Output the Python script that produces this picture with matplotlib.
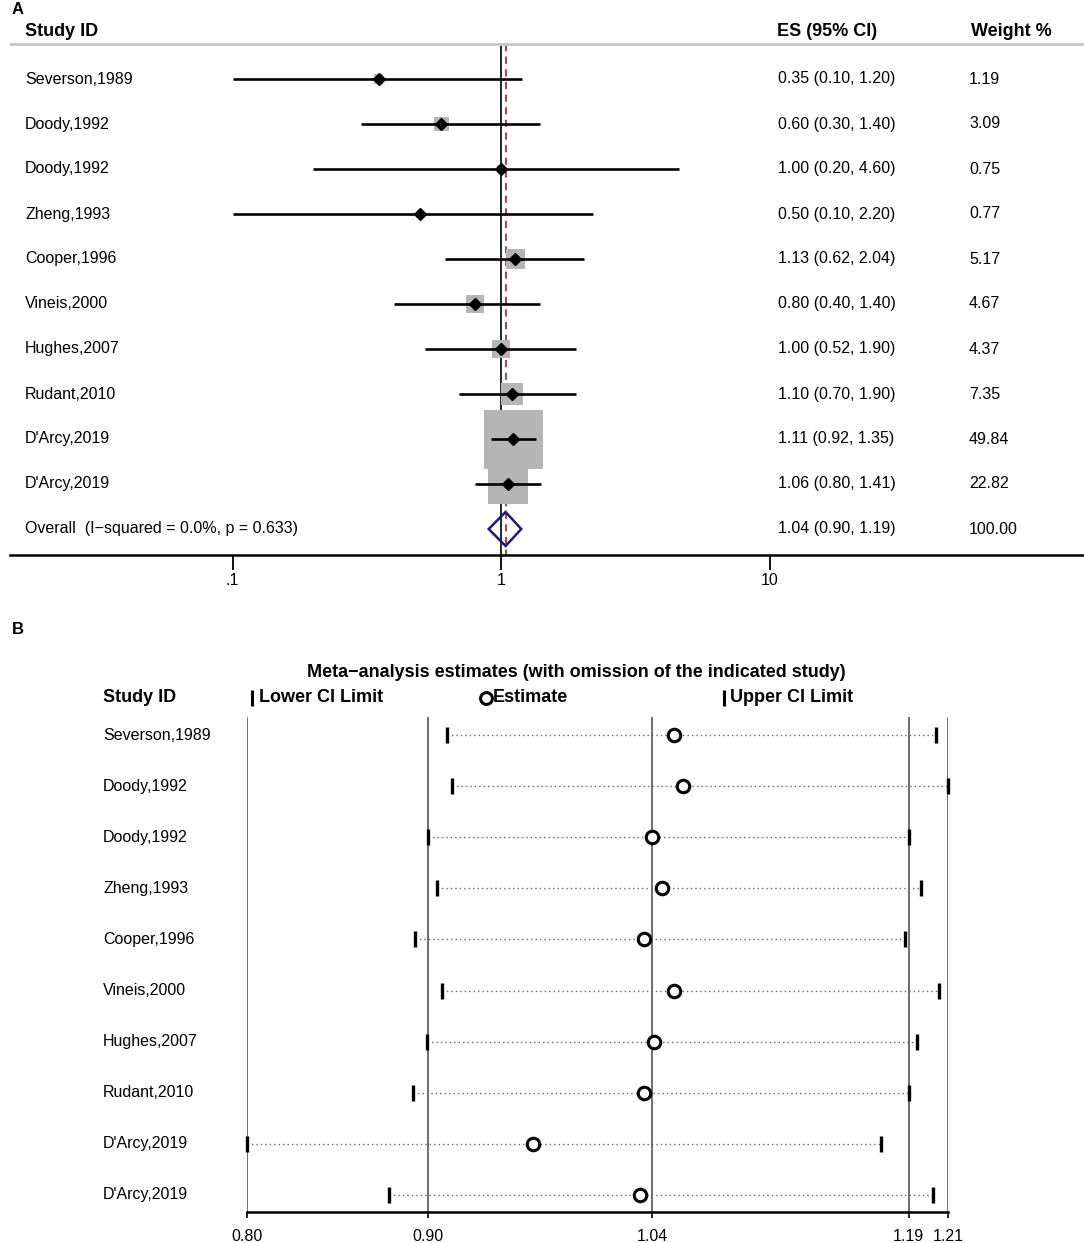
import numpy as np
import matplotlib
matplotlib.use("Agg")
import matplotlib.pyplot as plt
from matplotlib.patches import Polygon

plt.rcParams['font.family'] = ['Liberation Sans', 'DejaVu Sans']

W, H = 1084, 1243

# Panel A: forest plot
studies = ["Severson,1989", "Doody,1992", "Doody,1992", "Zheng,1993", "Cooper,1996",
           "Vineis,2000", "Hughes,2007", "Rudant,2010", "D'Arcy,2019", "D'Arcy,2019"]
es = [0.35, 0.60, 1.00, 0.50, 1.13, 0.80, 1.00, 1.10, 1.11, 1.06]
lo = [0.10, 0.30, 0.20, 0.10, 0.62, 0.40, 0.52, 0.70, 0.92, 0.80]
hi = [1.20, 1.40, 4.60, 2.20, 2.04, 1.40, 1.90, 1.90, 1.35, 1.41]
weight = [1.19, 3.09, 0.75, 0.77, 5.17, 4.67, 4.37, 7.35, 49.84, 22.82]
overall = (1.04, 0.90, 1.19)
overall_label = "Overall  (I\u2212squared = 0.0%, p = 0.633)"

# Panel B: leave-one-out sensitivity
loo_est = [1.050, 1.055, 1.037, 1.043, 1.032, 1.050, 1.038, 1.032, 0.967, 1.030]
loo_lo = [0.917, 0.920, 0.906, 0.911, 0.898, 0.914, 0.905, 0.897, 0.800, 0.883]
loo_hi = [1.203, 1.210, 1.187, 1.194, 1.185, 1.205, 1.192, 1.187, 1.171, 1.201]
b_ticks = [0.800, 0.906, 1.037, 1.187, 1.210]
b_ticklabels = ["0.80", "0.90", "1.04", "1.19", "1.21"]


def fx(px):
    return px / W


def fy(py):
    return 1 - py / H


fig = plt.figure(figsize=(W / 100, H / 100), dpi=100)

# ---------------- panel A ----------------
# rows at 79 + 45*i px, axis top 20 px, bottom 555 px
axA = fig.add_axes([fx(10), fy(555), fx(1074), (555 - 20) / H])
axA.set_xscale('log')
x0 = 10 ** ((10 - 501) / 268.5)
x1 = 10 ** ((1084 - 501) / 268.5)
axA.set_xlim(x0, x1)
row_top = (20 - 79) / 45
row_bot = (555 - 79) / 45
axA.set_ylim(row_bot, row_top)
for s in ['top', 'left', 'right']:
    axA.spines[s].set_visible(False)
axA.spines['bottom'].set_linewidth(1.8)
axA.set_yticks([])
axA.set_xticks([0.1, 1, 10])
axA.set_xticklabels([".1", "1", "10"])
axA.xaxis.set_minor_locator(matplotlib.ticker.NullLocator())
axA.tick_params(axis='x', length=11, width=1.3, labelsize=11.5, pad=2)

line_top = (44 - 79) / 45
axA.axhline(line_top, color='#c4c4c4', lw=2)
axA.vlines(1, line_top, row_bot, color='black', lw=1.2, zorder=1)
axA.vlines(overall[0], line_top, row_bot, color='#b03030', lw=1.3,
           linestyles=(0, (4, 3)), zorder=1)

rows = np.arange(len(studies))
side_pt = 59 * 0.72 * np.sqrt(np.array(weight) / 49.84)
axA.scatter(es, rows, marker='s', s=side_pt ** 2, color='#b5b5b5', linewidths=0, zorder=2)
axA.hlines(rows, lo, hi, color='black', lw=1.9, zorder=3)
axA.plot(es, rows, linestyle='none', marker='D', markersize=6, color='black', zorder=4)

ov_row = len(studies)
dh = 17 / 45
diamond = Polygon([[overall[1], ov_row], [overall[0], ov_row - dh],
                   [overall[2], ov_row], [overall[0], ov_row + dh]],
                  closed=True, fill=False, edgecolor='#1a1a80', lw=1.8, zorder=4)
axA.add_patch(diamond)

fig.text(fx(12), fy(10), "A", fontsize=12, fontweight='bold', va='center', ha='left')
fig.text(fx(25), fy(32), "Study ID", fontsize=13, fontweight='bold', va='center')
fig.text(fx(777), fy(32), "ES (95% CI)", fontsize=13, fontweight='bold', va='center')
fig.text(fx(971), fy(32), "Weight %", fontsize=13, fontweight='bold', va='center')
for i, name in enumerate(studies):
    py = 79 + 45 * i
    fig.text(fx(25), fy(py), name, fontsize=11.5, va='center')
    fig.text(fx(778), fy(py), f"{es[i]:.2f} ({lo[i]:.2f}, {hi[i]:.2f})", fontsize=11.5, va='center')
    fig.text(fx(969), fy(py), f"{weight[i]:.2f}", fontsize=11.5, va='center')
py = 79 + 45 * ov_row
fig.text(fx(25), fy(py), overall_label, fontsize=11.5, va='center')
fig.text(fx(778), fy(py), f"{overall[0]:.2f} ({overall[1]:.2f}, {overall[2]:.2f})", fontsize=11.5, va='center')
fig.text(fx(969), fy(py), "100.00", fontsize=11.5, va='center')

# ---------------- panel B ----------------
axB = fig.add_axes([fx(247), fy(1212), fx(701), (1212 - 717) / H])
axB.set_xlim(b_ticks[0], b_ticks[-1])
rb_top = (717 - 735) / 51.1
rb_bot = (1212 - 735) / 51.1
axB.set_ylim(rb_bot, rb_top)
for s in ['top', 'left', 'right']:
    axB.spines[s].set_visible(False)
axB.spines['bottom'].set_linewidth(1.8)
axB.set_yticks([])
axB.set_xticks(b_ticks)
axB.set_xticklabels(b_ticklabels)
axB.tick_params(axis='x', length=4, width=1.2, labelsize=11.5, pad=8)
for t in b_ticks:
    axB.axvline(t, color='#555555', lw=1.2, zorder=1)

rows_b = np.arange(len(studies))
axB.hlines(rows_b, loo_lo, loo_hi, color='#666666', lw=1.0, linestyles=(0, (1, 2.2)), zorder=2)
axB.plot(loo_lo, rows_b, linestyle='none', marker='|', markersize=11.5, markeredgewidth=2.4,
         color='black', zorder=3, clip_on=False)
axB.plot(loo_hi, rows_b, linestyle='none', marker='|', markersize=11.5, markeredgewidth=2.4,
         color='black', zorder=3, clip_on=False)
axB.plot(loo_est, rows_b, linestyle='none', marker='o', markersize=9, markeredgewidth=2.2,
         markerfacecolor='white', markeredgecolor='black', zorder=4)

fig.text(fx(12), fy(630), "B", fontsize=12, fontweight='bold', va='center', ha='left')
fig.text(fx(576), fy(673), "Meta\u2212analysis estimates (with omission of the indicated study)",
         fontsize=13, fontweight='bold', va='center', ha='center')
fig.text(fx(103), fy(698), "Study ID", fontsize=13, fontweight='bold', va='center')
fig.text(fx(259), fy(698), "Lower CI Limit", fontsize=13, fontweight='bold', va='center')
fig.text(fx(493), fy(698), "Estimate", fontsize=13, fontweight='bold', va='center')
fig.text(fx(730), fy(698), "Upper CI Limit", fontsize=13, fontweight='bold', va='center')
axB.plot([fx(252), fx(724)], [fy(698), fy(698)], transform=fig.transFigure, linestyle='none',
         marker='|', markersize=11, markeredgewidth=2.2, color='black', clip_on=False)
axB.plot([fx(486)], [fy(698)], transform=fig.transFigure, linestyle='none', marker='o',
         markersize=8.5, markeredgewidth=2.2, markerfacecolor='white', markeredgecolor='black',
         clip_on=False)
for i, name in enumerate(studies):
    fig.text(fx(103), fy(735 + 51.1 * i), name, fontsize=11.5, va='center')

fig.savefig("out.png", dpi=100)
